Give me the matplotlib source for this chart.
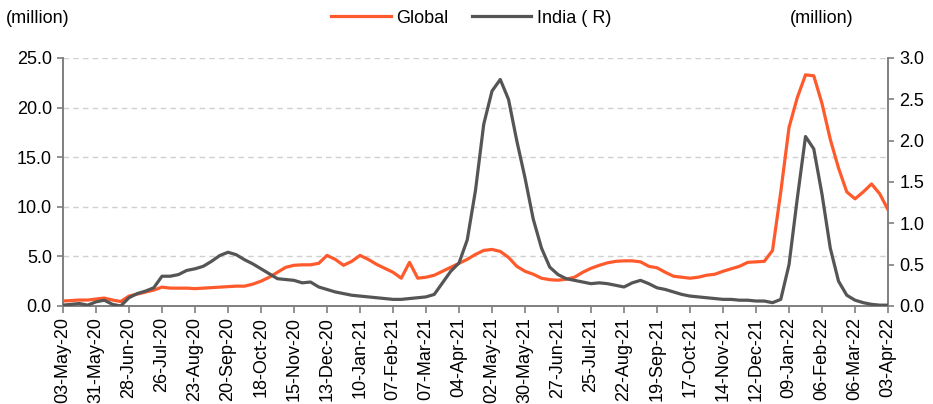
import numpy as np
import pandas as pd
import matplotlib
matplotlib.use('Agg')
import matplotlib.pyplot as plt
from matplotlib import font_manager

# weekly data, 03-May-20 .. 03-Apr-22
start_date = '2020-05-03'
n_weeks = 101
global_cases = [0.5, 0.55, 0.6, 0.6, 0.7, 0.8, 0.6, 0.45, 1.0, 1.2,
                1.4, 1.6, 1.9, 1.8, 1.8, 1.8, 1.75, 1.8, 1.85, 1.9,
                1.95, 2.0, 2.0, 2.2, 2.5, 2.9, 3.4, 3.9, 4.1, 4.15,
                4.15, 4.3, 5.1, 4.7, 4.1, 4.5, 5.1, 4.7, 4.2, 3.8,
                3.4, 2.8, 4.4, 2.8, 2.9, 3.1, 3.5, 3.9, 4.3, 4.7,
                5.2, 5.6, 5.7, 5.5, 4.9, 4.0, 3.5, 3.2, 2.8, 2.65,
                2.6, 2.7, 2.9, 3.4, 3.8, 4.1, 4.35, 4.5, 4.55, 4.55,
                4.45, 4.0, 3.85, 3.4, 3.0, 2.9, 2.8, 2.9, 3.1, 3.2,
                3.5, 3.75, 4.0, 4.4, 4.45, 4.5, 5.6, 11.5, 18.0, 21.0,
                23.3, 23.2, 20.4, 16.8, 13.9, 11.5, 10.8, 11.5, 12.3, 11.3,
                9.7]
india_cases = [0.01, 0.02, 0.03, 0.01, 0.05, 0.07, 0.02, 0.0, 0.1, 0.15,
               0.18, 0.22, 0.36, 0.36, 0.38, 0.43, 0.45, 0.48, 0.54, 0.61,
               0.65, 0.62, 0.56, 0.51, 0.45, 0.39, 0.33, 0.32, 0.31, 0.28,
               0.29, 0.23, 0.2, 0.17, 0.15, 0.13, 0.12, 0.11, 0.1, 0.09,
               0.08, 0.08, 0.09, 0.1, 0.11, 0.14, 0.28, 0.42, 0.52, 0.8,
               1.4, 2.2, 2.6, 2.74, 2.5, 2.0, 1.55, 1.05, 0.7, 0.47,
               0.38, 0.33, 0.31, 0.29, 0.27, 0.28, 0.27, 0.25, 0.23, 0.28,
               0.31, 0.27, 0.22, 0.2, 0.17, 0.14, 0.12, 0.11, 0.1, 0.09,
               0.08, 0.08, 0.07, 0.07, 0.06, 0.06, 0.04, 0.08, 0.5, 1.3,
               2.05, 1.9, 1.35, 0.7, 0.3, 0.13, 0.07, 0.04, 0.02, 0.01,
               0.01]
left_ticks = [0, 5, 10, 15, 20, 25]
right_ticks = [0, 0.5, 1.0, 1.5, 2.0, 2.5, 3.0]

dates = pd.date_range(start_date, periods=n_weeks, freq='7D')
tick_dates = pd.date_range(start_date, dates[-1], freq='28D')

names = {f.name for f in font_manager.fontManager.ttflist}
fam = 'Liberation Sans Narrow' if 'Liberation Sans Narrow' in names else 'Liberation Sans'
plt.rcParams['font.family'] = [fam, 'DejaVu Sans']

c_glob = '#FF5A2C'
c_ind = '#555555'
c_ax = '#7F7F7F'

fig = plt.figure(figsize=(9.33, 4.04), dpi=100)
ax = fig.add_axes([0.0675, 0.2426, 0.8843, 0.6139])
ax2 = ax.twinx()

ax.plot(dates, global_cases, c=c_glob, lw=2.3, label='Global', zorder=3,
        solid_joinstyle='round')
ax2.plot(dates, india_cases, c=c_ind, lw=2.3, label='India ( R)', zorder=3,
         solid_joinstyle='round')

ax.set_xlim(dates[0], dates[-1])
ax.set_ylim(0, 25)
ax2.set_ylim(0, 3.0)
ax.set_yticks(left_ticks)
ax.set_yticklabels(['%.1f' % v for v in left_ticks], fontsize=13)
ax2.set_yticks(right_ticks)
ax2.set_yticklabels(['%.1f' % v for v in right_ticks], fontsize=13)
ax.set_xticks(tick_dates)
ax.set_xticklabels([d.strftime('%d-%b-%y') for d in tick_dates], rotation=90, fontsize=13)

ax.grid(axis='y', color='#D0D0D0', linestyle=(0, (4, 3)), lw=1.0)
ax.set_axisbelow(True)

for a in (ax, ax2):
    a.spines['top'].set_visible(False)
    for s in ('left', 'right', 'bottom'):
        a.spines[s].set_color(c_ax)
        a.spines[s].set_linewidth(1.2)
    a.tick_params(colors=c_ax, labelcolor='black', length=5, width=1.2)
ax.tick_params(axis='x', pad=3)
ax.tick_params(axis='y', pad=4, length=4)
ax2.tick_params(axis='y', pad=4, length=4)

h1, l1 = ax.get_legend_handles_labels()
h2, l2 = ax2.get_legend_handles_labels()
fig.legend(h1 + h2, l1 + l2, loc='center', bbox_to_anchor=(0.505, 0.955), ncol=2,
           frameon=False, fontsize=13, handlelength=3.3, columnspacing=1.3, handletextpad=0.3)

fig.text(0.006, 0.955, '(million)', fontsize=13, va='center', ha='left')
fig.text(0.847, 0.955, '(million)', fontsize=13, va='center', ha='left')

fig.savefig('out.png', dpi=100)
